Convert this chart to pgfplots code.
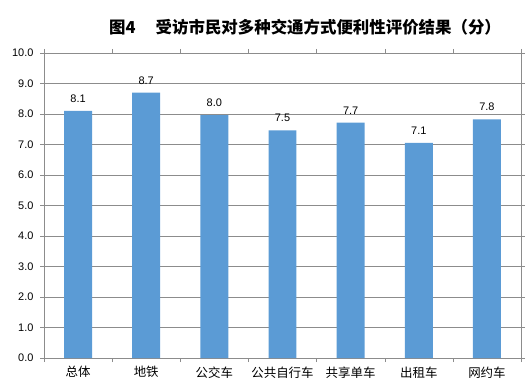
\documentclass[border=0pt]{standalone}
\usepackage{fontspec}
\setmainfont{Liberation Sans}
\newfontfamily\cjk{Noto Sans CJK SC}
\usepackage{pgfplots}
\pgfplotsset{compat=1.18}
\definecolor{barblue}{HTML}{5B9BD5}
\definecolor{gridgray}{HTML}{8C8C8C}
\begin{document}
\begin{tikzpicture}[x=1bp,y=1bp]
\useasboundingbox (0,0) rectangle (525,382);
\node[font=\cjk\bfseries\fontsize{16.5}{19}\selectfont] at (305,355) {图4\quad\ 受访市民对多种交通方式便利性评价结果（分）};
\begin{axis}[
  at={(44bp,24bp)}, anchor=south west,
  scale only axis, width=477bp, height=305bp,
  xmin=-0.5, xmax=6.5, ymin=0, ymax=10,
  ytick={0,1,...,10},
  xtick={0,...,6},
  xticklabels={总体,地铁,公交车,公共自行车,共享单车,出租车,网约车},
  x tick label style={font=\cjk\fontsize{12.5}{14}\selectfont, yshift=-1bp},
  major x tick style={draw=none},
  minor xtick={-0.5,0.5,...,6.5},
  minor x tick style={draw=gridgray},
  xtick align=outside, ytick align=outside,
  major tick length=4bp, minor tick length=4bp,
  y tick style={draw=gridgray},
  ymajorgrids, grid style={draw=gridgray, line width=0.6pt},
  axis line style={draw=gridgray, line width=0.6pt},
  tick label style={font=\fontsize{11}{13}\selectfont},
  /pgf/number format/assume math mode=true,
  yticklabel style={xshift=-3bp, /pgf/number format/.cd, fixed, fixed zerofill, precision=1},
  ybar, bar width=0.41,
  nodes near coords,
  every node near coord/.append style={font=\fontsize{11}{13}\selectfont, yshift=5bp, /pgf/number format/.cd, fixed, fixed zerofill, precision=1, assume math mode=true},
]
\addplot[fill=barblue, draw=none] coordinates {(0,8.1) (1,8.7) (2,7.96) (3,7.46) (4,7.72) (5,7.05) (6,7.82)};
\end{axis}
\end{tikzpicture}
\end{document}
